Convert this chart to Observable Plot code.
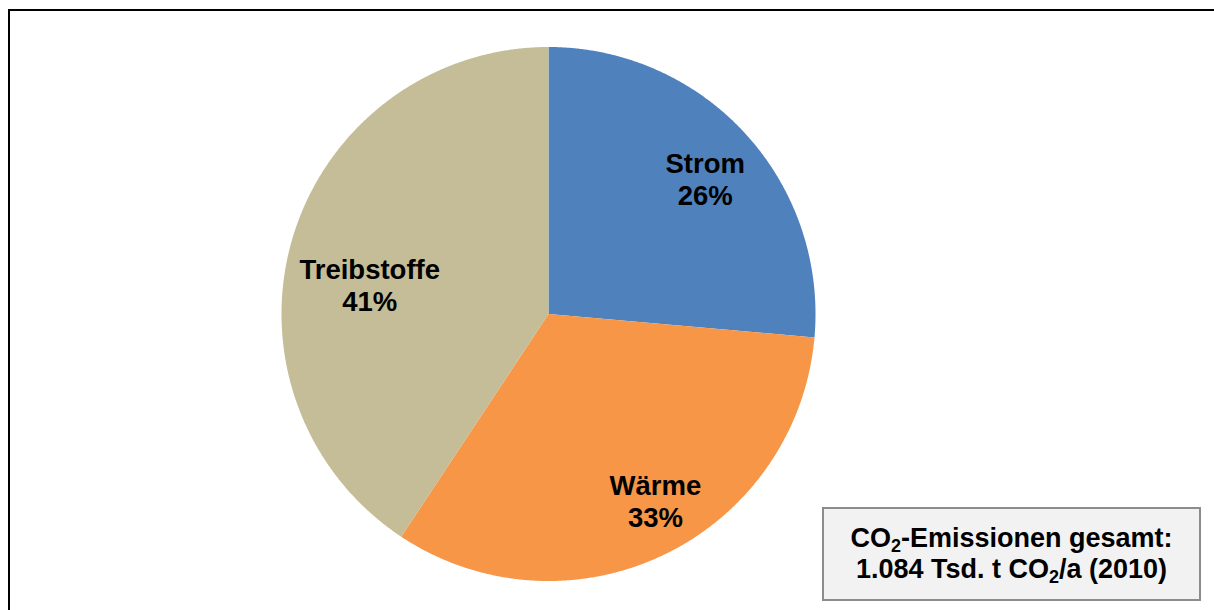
<!DOCTYPE html>
<html>
<head>
<meta charset="utf-8">
<script src="https://cdn.jsdelivr.net/npm/d3@7"></script>
<script src="https://cdn.jsdelivr.net/npm/@observablehq/plot@0.6"></script>
<style>
  html, body { margin: 0; padding: 0; background: #fff; width: 1214px; height: 610px; overflow: hidden; position: relative; font-family: "Liberation Sans", Arial, sans-serif; }
  #chart { position: absolute; left: 0; top: 0; }
  #frame { position: absolute; left: 8px; top: 9px; width: 1400px; height: 800px; border: 2px solid #000; box-sizing: border-box; pointer-events: none; }
  #note { position: absolute; left: 822px; top: 507px; width: 379px; height: 94px; box-sizing: border-box;
          border: 2px solid #8c8c8c; background: #f2f2f2; display: flex; flex-direction: column;
          justify-content: center; align-items: center; font-weight: bold; font-size: 27px; line-height: 31px; color: #000; text-align: center; }
  #note sub { font-size: 18px; line-height: 0; vertical-align: -5px; }
</style>
</head>
<body>
<div id="chart"></div>
<div id="frame"></div>
<div id="note">
  <div>CO<sub>2</sub>-Emissionen gesamt:</div>
  <div>1.084 Tsd. t CO<sub>2</sub>/a (2010)</div>
</div>
<script>
// ---- data ----
const categories = ["Strom", "Wärme", "Treibstoffe"];
const shares = [26.4, 32.9, 40.7];
const pctLabels = ["26%", "33%", "41%"];
const colors = ["#4F81BD", "#F79646", "#C4BD97"];

// ---- layout (label nudges in px, like Excel's best-fit placement) ----
const labelNudge = [[9, 0], [20, 6], [13, 28]];

// ---- build ----
const rows = categories.map((c, i) => ({cat: c, share: shares[i], pct: pctLabels[i]}));
const arcs = d3.pie().sort(null).value(d => d.share)(rows);

const pts = [];
for (const a of arcs) {
  pts.push({cat: a.data.cat, x: 0, y: 0});
  const n = Math.max(2, Math.ceil((a.endAngle - a.startAngle) / 0.005));
  for (let i = 0; i <= n; i++) {
    const t = a.startAngle + (a.endAngle - a.startAngle) * i / n;
    pts.push({cat: a.data.cat, x: Math.sin(t), y: Math.cos(t)});
  }
}

const labelR = 0.75;
const labels = arcs.map(a => {
  const m = (a.startAngle + a.endAngle) / 2;
  return {x: labelR * Math.sin(m), y: labelR * Math.cos(m), text: a.data.cat + "\n" + a.data.pct};
});

const cx = 548, cy = 313.5, r = 267;
const chart = Plot.plot({
  width: 1214,
  height: 610,
  margin: 0,
  style: {background: "transparent", fontFamily: '"Liberation Sans", Arial, sans-serif'},
  x: {domain: [-1, 1], range: [cx - r, cx + r], axis: null},
  y: {domain: [-1, 1], range: [cy + r, cy - r], axis: null},
  color: {domain: categories, range: colors},
  marks: [
    Plot.line(pts, {x: "x", y: "y", z: "cat", fill: "cat", stroke: null, curve: "linear"}),
    ...labels.map((l, i) => Plot.text([l], {x: "x", y: "y", text: "text", dx: labelNudge[i][0], dy: labelNudge[i][1],
      fontSize: 27.5, fontWeight: "bold", lineHeight: 1.17, fill: "#000"}))
  ]
});
document.getElementById("chart").appendChild(chart);
</script>
</body>
</html>
